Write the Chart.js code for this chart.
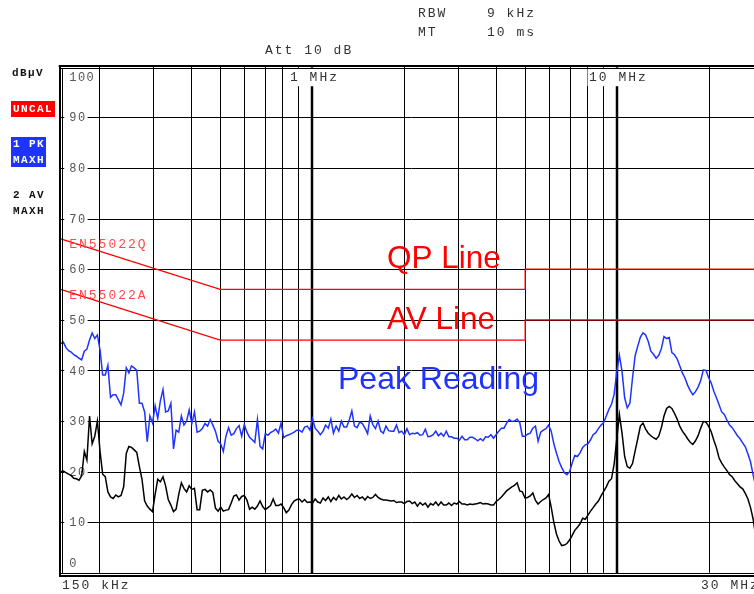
<!DOCTYPE html>
<html>
<head>
<meta charset="utf-8">
<script src="https://cdn.jsdelivr.net/npm/chart.js@4.4.1/dist/chart.umd.min.js"></script>
<style>
  html, body { margin: 0; padding: 0; background: #fff; overflow: hidden; }
  #wrap { position: absolute; left: 0; top: 0; width: 770px; height: 594px; }
</style>
</head>
<body>
<div id="wrap"><canvas id="emiChart" width="770" height="594"></canvas></div>
<script>
'use strict';

// Sweep frequencies (kHz), 150 kHz .. 30 MHz
const freqKHz = [
  150, 153, 156.1, 159.2, 162.4, 165.6, 168.9, 172.3, 175.7, 179.3,
  182.8, 186.5, 190.2, 194, 197.9, 201.9, 205.9, 210, 214.2, 218.5,
  222.9, 227.3, 231.9, 236.5, 241.3, 246.1, 251, 256, 261.2, 266.4,
  271.7, 277.1, 282.7, 288.3, 294.1, 300, 306, 312.1, 318.3, 324.7,
  331.2, 337.8, 344.6, 351.5, 358.5, 365.7, 373, 380.4, 388.1, 395.8,
  403.7, 411.8, 420, 428.4, 437, 445.8, 454.7, 463.8, 473, 482.5,
  492.2, 502, 512, 522.3, 532.7, 543.4, 554.2, 565.3, 576.6, 588.2,
  599.9, 611.9, 624.2, 636.6, 649.4, 662.4, 675.6, 689.1, 702.9, 717,
  731.3, 745.9, 760.9, 776.1, 791.6, 807.4, 823.6, 840, 856.8, 874,
  891.5, 909.3, 927.5, 946, 965, 984.3, 1004, 1024, 1045, 1065,
  1087, 1108, 1131, 1153, 1176, 1200, 1224, 1248, 1273, 1299,
  1325, 1351, 1378, 1406, 1434, 1463, 1492, 1522, 1552, 1583,
  1615, 1647, 1680, 1714, 1748, 1783, 1819, 1855, 1892, 1930,
  1968, 2008, 2048, 2089, 2131, 2173, 2217, 2261, 2306, 2353,
  2400, 2448, 2497, 2546, 2597, 2649, 2702, 2756, 2811, 2868,
  2925, 2984, 3043, 3104, 3166, 3229, 3294, 3360, 3427, 3496,
  3566, 3637, 3710, 3784, 3860, 3937, 4015, 4096, 4178, 4261,
  4346, 4433, 4522, 4612, 4705, 4799, 4895, 4993, 5093, 5194,
  5298, 5404, 5512, 5623, 5735, 5850, 5967, 6086, 6208, 6332,
  6459, 6588, 6720, 6854, 6991, 7131, 7273, 7419, 7567, 7719,
  7873, 8030, 8191, 8355, 8522, 8692, 8866, 9044, 9224, 9409,
  9597, 9789, 9985, 10184, 10388, 10596, 10808, 11024, 11244, 11469,
  11699, 11933, 12171, 12415, 12663, 12916, 13175, 13438, 13707, 13981,
  14261, 14546, 14837, 15134, 15436, 15745, 16060, 16381, 16709, 17043,
  17384, 17732, 18086, 18448, 18817, 19193, 19577, 19969, 20368, 20775,
  21191, 21615, 22047, 22488, 22938, 23396, 23864, 24342, 24829, 25325,
  25832, 26348, 26875, 27413, 27961, 28520, 29091, 29673, 30000
];

// Trace 1: peak, max hold (dBuV)
const peakLevel = [
  45.3, 45.6, 44.5, 43.9, 43.6, 43.1, 42.8, 42.4, 42.1, 43.8,
  44.2, 46.0, 47.4, 46.3, 47.0, 44.0, 39.1, 39.1, 41.0, 34.7,
  35.2, 35.2, 34.2, 33.2, 35.5, 40.5, 39.5, 40.9, 40.5, 40.0,
  33.5, 33.5, 31.8, 25.9, 31.0, 29.6, 33.0, 30.5, 34.0, 36.2,
  31.8, 32.0, 33.5, 24.5, 28.2, 27.8, 31.0, 29.2, 30.0, 32.2,
  29.5, 31.8, 27.8, 28.0, 28.5, 29.5, 29.0, 30.3, 29.2, 28.0,
  26.0, 25.5, 24.0, 27.0, 28.7, 27.2, 27.5, 28.5, 29.1, 27.0,
  29.3, 27.8, 26.8, 26.3, 25.8, 30.3, 25.0, 24.5, 27.5, 27.2,
  27.7, 28.0, 28.4, 27.6, 29.6, 26.7, 27.1, 27.3, 27.5, 27.8,
  28.2, 28.2, 27.8, 28.8, 29.0, 28.2, 30.5, 28.6, 28.0, 27.3,
  28.0, 29.2, 28.6, 30.4, 27.6, 29.0, 28.0, 30.0, 28.8, 28.8,
  30.2, 32.0, 29.0, 28.7, 29.8, 29.5, 28.6, 27.5, 31.0, 29.3,
  28.5, 30.0, 28.0, 27.6, 29.0, 28.1, 28.0, 28.0, 29.2, 27.7,
  28.0, 27.3, 28.5, 27.3, 27.6, 27.5, 27.7, 27.2, 27.3, 28.4,
  26.9, 27.0, 27.3, 28.0, 27.1, 27.6, 27.0, 28.0, 26.9, 26.9,
  26.6, 26.6, 26.2, 27.0, 26.3, 26.3, 26.8, 26.8, 26.5, 26.1,
  26.5, 26.1, 26.9, 26.8, 27.3, 26.6, 27.3, 28.0, 28.6, 28.6,
  29.6, 30.3, 29.9, 30.0, 30.4, 29.7, 27.0, 27.0, 27.4, 27.6,
  28.6, 29.0, 26.0, 27.8, 28.2, 28.5, 29.2, 28.0, 25.5, 23.7,
  22.0, 20.8, 19.8, 19.4, 20.0, 21.7, 23.2, 23.0, 23.7, 24.8,
  25.3, 25.5, 26.3, 27.3, 27.7, 28.5, 29.2, 29.7, 31.0, 32.3,
  33.3, 35.3, 39.7, 43.0, 39.8, 34.6, 32.6, 33.5, 38.5, 42.9,
  44.8, 46.6, 47.4, 47.0, 45.7, 43.8, 43.2, 42.4, 43.0, 44.3,
  46.7, 46.3, 46.5, 43.5, 43.1, 42.3, 40.9, 39.5, 38.5, 37.1,
  36.0, 35.2, 35.8, 36.7, 38.0, 40.1, 40.0, 38.6, 37.5, 35.9,
  34.6, 33.2, 31.8, 31.3, 30.2, 29.2, 28.7, 27.9, 27.1, 26.5,
  25.7, 24.9, 23.5, 21.9, 19.3, 17.0, 15.5, 14.5, 14.0
];

// Trace 2: average, max hold (dBuV)
const avgLevel = [
  20.0, 20.1, 19.8, 19.5, 19.2, 18.7, 18.6, 18.3, 19.2, 24.0,
  22.3, 31.0, 25.5, 27.0, 30.0, 24.0, 19.5, 19.0, 16.0, 15.0,
  14.7, 15.4, 15.0, 15.3, 17.0, 23.6, 25.0, 24.8, 24.3, 23.8,
  21.0, 18.5, 14.2, 13.2, 12.6, 12.1, 15.5, 18.5, 18.0, 19.0,
  17.2, 14.5, 13.4, 12.1, 12.6, 15.5, 17.8, 16.7, 16.0, 17.2,
  16.5, 16.7, 12.5, 12.5, 16.3, 16.5, 16.0, 16.4, 15.9, 12.8,
  12.2, 13.0, 12.2, 12.4, 12.5, 13.8, 15.2, 15.4, 14.4, 15.1,
  15.3, 14.4, 12.6, 13.0, 12.6, 13.2, 14.2, 13.1, 12.5, 12.9,
  13.3, 14.6, 13.3, 13.3, 13.6, 12.9, 11.9, 12.4, 13.5, 14.2,
  14.5, 14.6, 14.0, 14.5, 13.9, 14.0, 13.8, 14.6, 14.0, 13.8,
  14.8, 14.3, 15.0, 14.1, 14.9, 14.4, 15.3, 14.6, 15.0, 14.5,
  14.9, 15.6, 14.9, 15.3, 14.7, 15.0, 14.4, 15.1, 14.7, 14.9,
  15.5, 14.9, 14.6, 14.4, 14.4, 14.3, 14.2, 14.3, 13.9, 14.0,
  14.0, 13.7, 14.1, 14.2, 13.7, 14.0, 13.2, 13.9, 13.4, 13.8,
  13.0, 13.7, 13.4, 14.0, 13.3, 14.0, 13.4, 13.4, 13.8, 13.3,
  13.8, 13.6, 14.1, 13.6, 13.6, 13.4, 13.6, 13.5, 13.6, 13.7,
  13.9, 13.6, 13.7, 13.6, 13.4, 13.4, 14.1, 14.5, 15.0, 15.6,
  16.2, 16.6, 17.0, 17.3, 17.8, 16.2, 16.0, 14.8, 14.9, 15.2,
  15.8, 14.3, 13.6, 14.1, 14.5, 14.8, 15.5, 13.0, 10.0, 7.7,
  6.3, 5.4, 5.5, 5.8, 6.5, 7.4, 8.4, 9.0, 9.7, 10.8,
  10.6, 11.4, 12.2, 12.9, 13.6, 14.2, 15.2, 16.1, 17.0, 18.1,
  18.6, 21.5, 26.5, 31.3, 27.6, 23.0, 21.0, 20.7, 21.6, 24.1,
  26.5, 29.0, 29.6, 28.4, 27.6, 27.1, 26.7, 26.4, 27.0, 28.7,
  31.0, 32.5, 32.9, 32.5, 31.5, 30.4, 29.0, 28.0, 27.3, 26.5,
  25.8, 25.4, 26.1, 27.1, 28.6, 29.9, 29.8, 29.0, 27.9, 26.2,
  24.7, 22.7, 21.7, 20.9, 20.2, 19.4, 19.0, 18.2, 17.6, 17.0,
  16.6, 15.7, 14.6, 12.9, 10.6, 7.0, 5.0, 3.5, 3.0
];

// EN55022 class B limit lines
const limitFreqKHz = [150, 500, 5000, 5000, 30000];
const qpLimit = [66, 56, 56, 60, 60];
const avLimit = [56, 46, 46, 50, 50];

// Axes
const yTicks = [0, 10, 20, 30, 40, 50, 60, 70, 80, 90, 100];
const xGridKHz = [200, 300, 400, 500, 600, 700, 800, 900,
                  2000, 3000, 4000, 5000, 6000, 7000, 8000, 9000, 20000];
const xMajorKHz = [1000, 10000];
const xTopLabels = ['1 MHz', '10 MHz'];

const traceBlue = '#1f33ff',
    limitRed = '#ff0000',
    labelGrey = '#555555',
    textDark = '#333333';

const MONO = '"Liberation Mono", "DejaVu Sans Mono", monospace';
const SANS = '"Liberation Sans", Arial, sans-serif';

function toPoints(xs, ys) {
    return xs.map(function (f, i) { return { x: f, y: ys[i] }; });
}

function spaced(ctx, px) {
    if ('letterSpacing' in ctx) ctx.letterSpacing = px + 'px';
}

// Grid, scale labels and frame drawn from the chart's own scales
const analyzerFrame = {
    id: 'analyzerFrame',
    beforeDatasetsDraw(chart) {
        const { ctx, chartArea: a, scales: { x, y } } = chart;
        ctx.save();
        ctx.strokeStyle = '#000';

        ctx.lineWidth = 1;
        yTicks.slice(1, -1).forEach(function (v) {
            const py = Math.round(y.getPixelForValue(v)) + 0.5;
            ctx.beginPath();
            ctx.moveTo(a.left, py);
            ctx.lineTo(a.right, py);
            ctx.stroke();
        });
        xGridKHz.forEach(function (f) {
            const px = Math.round(x.getPixelForValue(f)) + 0.5;
            ctx.beginPath();
            ctx.moveTo(px, a.top);
            ctx.lineTo(px, a.bottom);
            ctx.stroke();
        });
        ctx.lineWidth = 2.5;
        xMajorKHz.forEach(function (f) {
            const px = Math.round(x.getPixelForValue(f));
            ctx.beginPath();
            ctx.moveTo(px, a.top);
            ctx.lineTo(px, a.bottom);
            ctx.stroke();
        });

        // y labels inside the plot, on white backdrops
        ctx.font = '12px ' + MONO;
        spaced(ctx, 1.5);
        ctx.textBaseline = 'middle';
        ctx.textAlign = 'left';
        yTicks.forEach(function (v) {
            let py = y.getPixelForValue(v);
            if (v === 100) py += 10;
            if (v === 0) py -= 10;
            const t = String(v);
            const w = ctx.measureText(t).width;
            ctx.fillStyle = '#fff';
            ctx.fillRect(a.left + 3.5, py - 6, w + 6, 12);
            ctx.fillStyle = labelGrey;
            ctx.fillText(t, a.left + 8.5, py + 1);
        });

        // decade labels at the top
        ctx.font = '13px ' + MONO;
        spaced(ctx, 2);
        xMajorKHz.forEach(function (f, i) {
            const px = x.getPixelForValue(f);
            const t = xTopLabels[i];
            const left = px - (i === 0 ? 22 : 28);
            const w = ctx.measureText(t).width;
            ctx.fillStyle = '#fff';
            ctx.fillRect(left - 1.5, a.top + 1, w + 3, 18.5);
            ctx.fillStyle = textDark;
            ctx.fillText(t, left, a.top + 10.5);
        });
        ctx.restore();
    },
    afterDatasetsDraw(chart) {
        const { ctx, chartArea: a } = chart;
        ctx.save();
        ctx.fillStyle = '#000';
        const w = a.right - a.left;
        // double-line frame
        ctx.fillRect(a.left - 2, 65, w + 4, 2);
        ctx.fillRect(a.left, 68, w, 1);
        ctx.fillRect(59, 65, 2, a.bottom - 65 + 4);
        ctx.fillRect(62, 68, 1, a.bottom - 68);
        ctx.fillRect(a.left, 573, w, 1);
        ctx.fillRect(59, 575, w + 4, 2);

        // limit line names
        ctx.font = '13px ' + MONO;
        spaced(ctx, 2);
        ctx.textBaseline = 'middle';
        ctx.fillStyle = '#ff4a4a';
        ctx.fillText('EN55022Q', a.left + 8.5, 245);
        ctx.fillText('EN55022A', a.left + 8.5, 296);

        // trace annotations
        spaced(ctx, 0);
        ctx.textBaseline = 'alphabetic';
        ctx.font = '31.5px ' + SANS;
        ctx.fillStyle = limitRed;
        ctx.fillText('QP Line', 387, 268);
        ctx.fillText('AV Line', 387, 329);
        ctx.font = '32px ' + SANS;
        ctx.fillStyle = traceBlue;
        ctx.fillText('Peak Reading', 338, 389);
        ctx.restore();
    },
    afterDraw(chart) {
        const { ctx } = chart;
        ctx.save();
        ctx.textBaseline = 'middle';
        ctx.textAlign = 'left';

        ctx.font = '13px ' + MONO;
        spaced(ctx, 2);
        ctx.fillStyle = textDark;
        ctx.fillText('RBW', 418, 14);
        ctx.fillText('9 kHz', 487, 14);
        ctx.fillText('MT', 418, 33);
        ctx.fillText('10 ms', 487, 33);
        ctx.fillText('Att 10 dB', 265, 51);
        ctx.fillText('150 kHz', 62, 586);
        ctx.fillText('30 MHz', 701, 586);

        ctx.font = 'bold 11px ' + MONO;
        spaced(ctx, 1.4);
        ctx.fillStyle = '#111';
        ctx.fillText('dB\u00b5V', 12, 73);

        ctx.fillStyle = '#ff0000';
        ctx.fillRect(11, 101, 44, 16);
        ctx.fillStyle = '#fff';
        ctx.fillText('UNCAL', 13, 109.5);

        ctx.fillStyle = traceBlue;
        ctx.fillRect(11, 137, 35, 30);
        ctx.fillStyle = '#fff';
        ctx.fillText('1 PK', 13, 144.5);
        ctx.fillText('MAXH', 13, 160);

        ctx.fillStyle = '#111';
        ctx.fillText('2 AV', 13, 195.5);
        ctx.fillText('MAXH', 13, 211.5);
        ctx.restore();
    }
};

const emiChart = new Chart(document.getElementById('emiChart'), {
    type: 'line',
    data: {
        datasets: [
            {
                label: 'Peak',
                data: toPoints(freqKHz, peakLevel),
                borderColor: traceBlue,
                borderWidth: 1.5,
                order: 1
            },
            {
                label: 'Average',
                data: toPoints(freqKHz, avgLevel),
                borderColor: '#000',
                borderWidth: 1.5,
                order: 2
            },
            {
                label: 'EN55022Q',
                data: toPoints(limitFreqKHz, qpLimit),
                borderColor: limitRed,
                borderWidth: 1.3,
                order: 3
            },
            {
                label: 'EN55022A',
                data: toPoints(limitFreqKHz, avLimit),
                borderColor: limitRed,
                borderWidth: 1.3,
                order: 4
            }
        ]
    },
    options: {
        responsive: false,
        animation: false,
        devicePixelRatio: 1,
        elements: {
            point: { radius: 0 },
            line: { tension: 0, fill: false }
        },
        layout: {
            padding: { left: 60.7, top: 66.7, right: 7.5, bottom: 21.1 }
        },
        plugins: {
            legend: { display: false },
            tooltip: { enabled: false }
        },
        scales: {
            x: { type: 'logarithmic', min: 150, max: 30000, display: false },
            y: { type: 'linear', min: 0, max: 100, display: false }
        }
    },
    plugins: [analyzerFrame]
});
</script>
</body>
</html>
